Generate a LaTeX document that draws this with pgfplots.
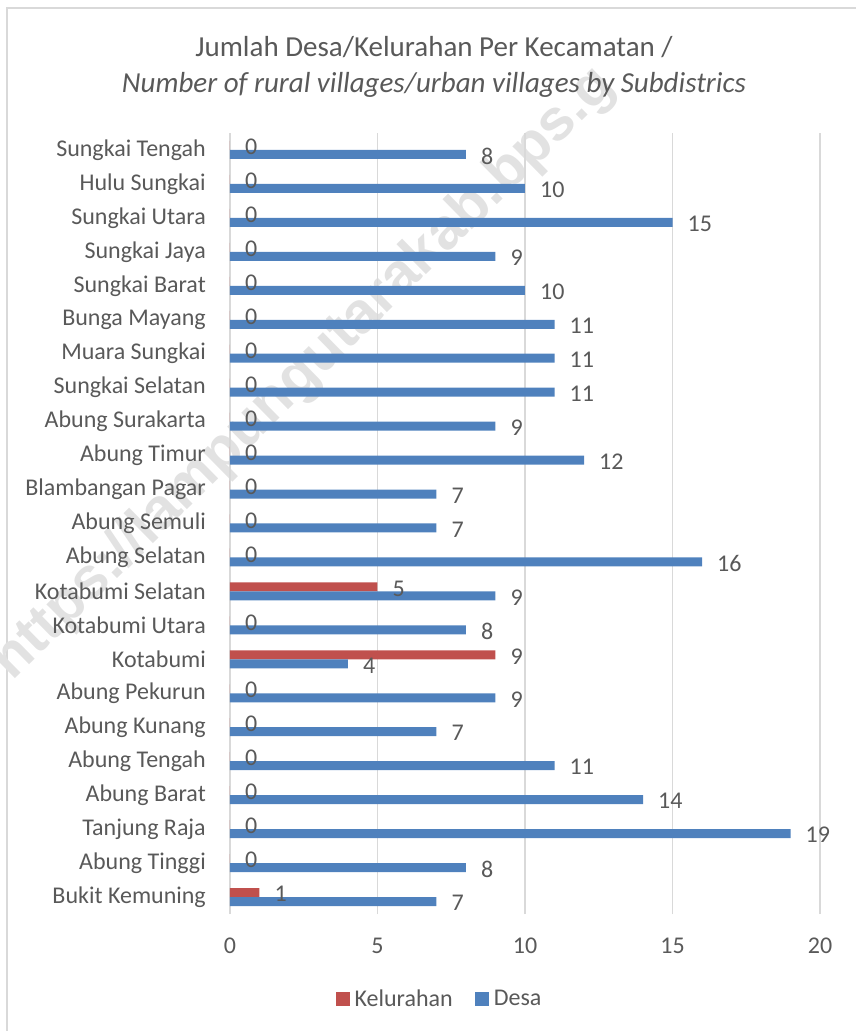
\documentclass[border=0pt]{standalone}
\usepackage{fontspec}
\setmainfont{Carlito}
\newfontfamily\wmfont{Liberation Sans}
\usepackage{pgfplots}
\pgfplotsset{compat=1.18}
\definecolor{txt}{HTML}{595959}
\definecolor{kel}{HTML}{C0504D}
\definecolor{desa}{HTML}{4F81BD}
\definecolor{gridc}{HTML}{D9D9D9}
\definecolor{wm}{HTML}{E2E2E2}
\begin{document}
\begin{tikzpicture}[x=1pt,y=1pt]
\useasboundingbox (-230,-117) rectangle (625,914);
\draw[gridc, line width=1.3pt] (-223,-130) -- (-223,906) -- (640,906);
\begin{scope}
\clip (-230,-117) rectangle (625,914);
\node[rotate=44.5, text=wm, font=\wmfont\bfseries\fontsize{58}{58}\selectfont] at (74,540) {https://lampungutarakab.bps.g};
\end{scope}
\begin{axis}[
 at={(0,0)}, anchor=south west,
 width=590pt, height=781pt, scale only axis,
 xbar, bar width=9pt,
 xmin=0, xmax=20, ymin=-0.5, ymax=22.5,
 xtick={0,5,10,15,20}, xticklabels={0,5,10,15,20},
 ytick={0,...,22},
 yticklabels={Bukit Kemuning, Abung Tinggi, Tanjung Raja, Abung Barat, Abung Tengah, Abung Kunang, Abung Pekurun, Kotabumi, Kotabumi Utara, Kotabumi Selatan, Abung Selatan, Abung Semuli, Blambangan Pagar, Abung Timur, Abung Surakarta, Sungkai Selatan, Muara Sungkai, Bunga Mayang, Sungkai Barat, Sungkai Jaya, Sungkai Utara, Hulu Sungkai, Sungkai Tengah},
 major tick length=0pt,
 axis line style={draw=none},
 xmajorgrids, grid style={gridc, line width=1.3pt},
 tick label style={font=\fontsize{24}{28}\selectfont, text=txt, inner sep=0pt},
 yticklabel style={anchor=east, xshift=-24pt},
 xticklabel style={anchor=center, yshift=-32pt},
 nodes near coords,
 every node near coord/.append style={font=\fontsize{24}{28}\selectfont, text=txt, inner sep=0pt, anchor=west, xshift=15pt, yshift=-1.5pt},
 /pgf/number format/assume math mode=true,
 legend style={draw=none, at={(0.3534,-0.1088)}, anchor=center, legend columns=2, font=\fontsize{24}{28}\selectfont, text=txt, nodes={inner sep=0pt}, /tikz/every odd column/.append style={column sep=5pt}, /tikz/every even column/.append style={column sep=22pt}},
]
\addplot[fill=kel, draw=none, bar shift=4.5pt, legend image code/.code={\fill[kel] (0pt,-7pt) rectangle (14pt,7pt);}] coordinates {
(1,0) (0,1) (0,2) (0,3) (0,4) (0,5) (0,6) (9,7) (0,8) (5,9) (0,10) (0,11) (0,12) (0,13) (0,14) (0,15) (0,16) (0,17) (0,18) (0,19) (0,20) (0,21) (0,22)};
\addlegendentry{Kelurahan}
\addplot[fill=desa, draw=none, bar shift=-4.5pt, legend image code/.code={\fill[desa] (0pt,-7pt) rectangle (14pt,7pt);}] coordinates {
(7,0) (8,1) (19,2) (14,3) (11,4) (7,5) (9,6) (4,7) (8,8) (9,9) (16,10) (7,11) (7,12) (12,13) (9,14) (11,15) (11,16) (11,17) (10,18) (9,19) (15,20) (10,21) (8,22)};
\addlegendentry{Desa}
\end{axis}
\node[anchor=base, font=\fontsize{29}{36}\selectfont, text=txt] at (204,857) {Jumlah Desa/Kelurahan Per Kecamatan /};
\node[anchor=base, font=\fontsize{29}{36}\selectfont\itshape, text=txt] at (204,821) {Number of rural villages/urban villages by Subdistrics};
\end{tikzpicture}
\end{document}
